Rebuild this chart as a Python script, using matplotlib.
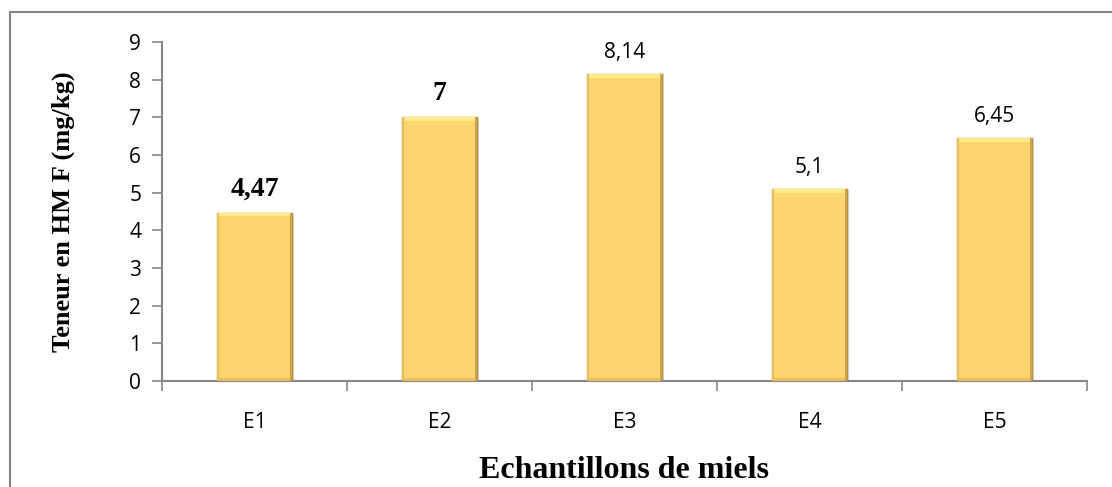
import matplotlib.pyplot as plt
from matplotlib.patches import Rectangle

# data
samples = ['E1', 'E2', 'E3', 'E4', 'E5']
values = [4.47, 7, 8.14, 5.1, 6.45]
value_labels = ['4,47', '7', '8,14', '5,1', '6,45']
bold_labels = [True, True, False, False, False]
yticks = [0, 1, 2, 3, 4, 5, 6, 7, 8, 9]

gray = '#868686'
bar_col = '#FDD56F'

fig = plt.figure(figsize=(11.12, 4.87), dpi=100)
ax = fig.add_axes([0.1457, 0.2177, 0.8318, 0.6961])

# outer frame of the chart area
fig.patches.append(Rectangle((10 / 1112, -0.05), 1.2, 1 - 12 / 487 + 0.05,
                             transform=fig.transFigure, fill=False,
                             edgecolor=gray, linewidth=1.5))

x = list(range(len(samples)))
w = 0.405
# shadow
ax.bar([i + 0.012 for i in x], values, width=w, color='#dcdcdc', zorder=1)
ax.bar(x, values, width=w, color=bar_col, edgecolor='#B8923E', linewidth=1.0, zorder=2)
# bevel top / bottom
ax.bar(x, [0.1] * len(x), bottom=[v - 0.1 for v in values], width=w * 0.96,
       color='#FFEB8A', linewidth=0, zorder=3)
ax.bar(x, [0.08] * len(x), bottom=0.01, width=w * 0.96,
       color='#E9BE5E', linewidth=0, zorder=3)
# bevel sides
ax.bar([i - w / 2 + 0.006 for i in x], values, width=0.012, color='#E8BD5E', linewidth=0, zorder=3)
ax.bar([i + w / 2 - 0.006 for i in x], values, width=0.012, color='#CFA34B', linewidth=0, zorder=3)

for i, v in enumerate(values):
    if bold_labels[i]:
        ax.text(i, v + 0.3, value_labels[i], ha='center', va='bottom',
                fontsize=20, fontweight='bold', family='Liberation Serif')
    else:
        ax.text(i, v + 0.3, value_labels[i], ha='center', va='bottom',
                fontsize=15, family='Open Sans')

ax.set_xlim(-0.5, len(samples) - 0.5)
ax.set_ylim(0, 9)
ax.set_yticks(yticks)
ax.set_yticklabels([str(t) for t in yticks], fontsize=15, family='Open Sans')
ax.set_xticks(x)
ax.set_xticklabels(samples, fontsize=15, family='Open Sans')
ax.set_xticks([i - 0.5 for i in range(len(samples) + 1)], minor=True)
ax.tick_params(axis='x', which='major', length=0, pad=22)
ax.tick_params(axis='x', which='minor', length=7, color=gray, width=1.2)
ax.tick_params(axis='y', length=7, color=gray, width=1.2, pad=8)

for s in ['top', 'right']:
    ax.spines[s].set_visible(False)
for s in ['left', 'bottom']:
    ax.spines[s].set_color(gray)
    ax.spines[s].set_linewidth(1.5)

ax.set_ylabel('Teneur en HM F (mg/kg)', fontsize=19, fontweight='bold',
              family='Liberation Serif')
ax.set_xlabel('Echantillons de miels', fontsize=23, fontweight='bold',
              family='Liberation Serif')
ax.yaxis.set_label_coords(-0.094, 0.5)
ax.xaxis.set_label_coords(0.5, -0.222)

fig.savefig('out.png', dpi=100)
